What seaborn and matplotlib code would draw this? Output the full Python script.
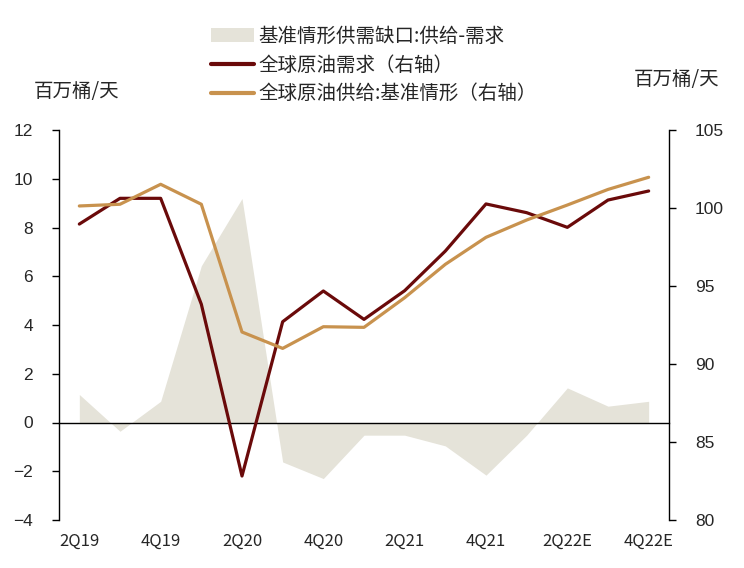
import numpy as np
import pandas as pd
import matplotlib
matplotlib.use("Agg")
import matplotlib.pyplot as plt
import seaborn as sns
from matplotlib.patches import Patch
from matplotlib.lines import Line2D

# quarters
quarters = ["2Q19", "3Q19", "4Q19", "1Q20", "2Q20", "3Q20", "4Q20", "1Q21",
            "2Q21", "3Q21", "4Q21", "1Q22E", "2Q22E", "3Q22E", "4Q22E"]
tick_labels = ["2Q19", "4Q19", "2Q20", "4Q20", "2Q21", "4Q21", "2Q22E", "4Q22E"]

# supply - demand gap (left axis, mb/d)
gap = [1.15, -0.36, 0.87, 6.43, 9.19, -1.62, -2.30, -0.52, -0.52, -0.96,
       -2.16, -0.52, 1.42, 0.67, 0.87]
# global oil demand (right axis)
demand = [98.97, 100.62, 100.62, 93.83, 82.82, 92.71, 94.68, 92.86, 94.70,
          97.24, 100.26, 99.70, 98.76, 100.51, 101.09]
# global oil supply, base case (right axis)
supply = [100.13, 100.24, 101.52, 100.24, 92.05, 91.00, 92.39, 92.35, 94.25,
          96.39, 98.12, 99.23, 100.19, 101.19, 101.97]

df = pd.DataFrame({"q": np.arange(len(quarters)), "gap": gap,
                   "demand": demand, "supply": supply})

sns.set_style("white")
plt.rcParams['font.family'] = ['Noto Sans CJK SC', 'DejaVu Sans']
plt.rcParams['axes.unicode_minus'] = True

c_gap = "#E5E3D9"
c_dem = "#6A0A0A"
c_sup = "#C8924E"

fig = plt.figure(figsize=(7.44, 5.68), dpi=100)
ax = fig.add_axes([59 / 744, 1 - 520 / 568, 610 / 744, 390 / 568])

ax.fill_between(df["q"], 0, df["gap"], color=c_gap, linewidth=0)
ax.set_xlim(-0.5, len(quarters) - 0.5)
ax.set_ylim(-4, 12)
ax.set_yticks(np.arange(-4, 13, 2))

ax2 = ax.twinx()
sns.lineplot(data=df, x="q", y="demand", ax=ax2, color=c_dem, linewidth=2.3)
sns.lineplot(data=df, x="q", y="supply", ax=ax2, color=c_sup, linewidth=2.3)
ax2.set_ylim(80, 105)
ax2.set_yticks(np.arange(80, 106, 5))
ax2.set_xlim(-0.5, len(quarters) - 0.5)
ax2.set_xlabel("")
ax2.set_ylabel("")

# x axis sits at zero with inward ticks at category boundaries
ax.spines['bottom'].set_position(('data', 0))
ax.set_xticks(np.arange(0.5, len(quarters) - 1, 1))
ax.set_xticklabels([])
ax.tick_params(axis='x', direction='in', length=4.5, width=1, color='black')
ax.tick_params(axis='y', direction='out', length=4.7, width=1, color='black',
               labelsize=12.5, pad=14)
ax2.tick_params(axis='y', direction='out', length=4.7, width=1, color='black',
                labelsize=12.5, pad=14)
ax2.tick_params(axis='x', length=0, labelbottom=False)
for lab in ax.get_yticklabels() + ax2.get_yticklabels():
    lab.set_fontfamily('Liberation Sans')

for a in (ax, ax2):
    a.spines['top'].set_visible(False)
    for s in ('left', 'right', 'bottom'):
        a.spines[s].set_color('black')
        a.spines[s].set_linewidth(1)
ax2.spines['bottom'].set_visible(False)
ax2.spines['left'].set_visible(False)
ax.spines['right'].set_visible(False)

for i, lab in enumerate(tick_labels):
    ax.text(2 * i, -0.055, lab, transform=ax.get_xaxis_transform(),
            ha='center', va='center', fontsize=12)

fig.text(77 / 744, 1 - 91 / 568, "百万桶/天", ha='center', va='center', fontsize=14)
fig.text(677 / 744, 1 - 80 / 568, "百万桶/天", ha='center', va='center', fontsize=14)

handles = [Patch(facecolor=c_gap, edgecolor='none'),
           Line2D([], [], color=c_dem, linewidth=3),
           Line2D([], [], color=c_sup, linewidth=3)]
labels = ["基准情形供需缺口:供给-需求", "全球原油需求（右轴）", "全球原油供给:基准情形（右轴）"]
fig.legend(handles, labels, loc='upper left', bbox_to_anchor=(203 / 744, 1 - 18 / 568),
           frameon=False, fontsize=14, handlelength=2.2, handleheight=0.7,
           handletextpad=0.25, labelspacing=0.4, borderaxespad=0)

fig.savefig("out.png", dpi=100)
